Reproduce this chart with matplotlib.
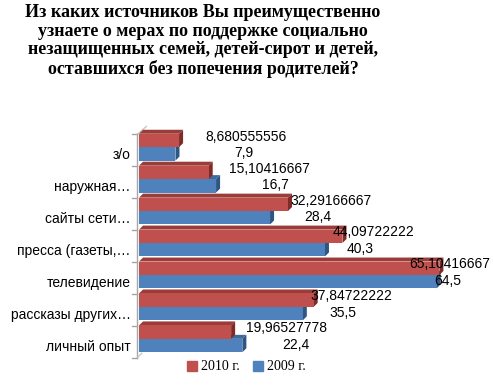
import numpy as np
import matplotlib.pyplot as plt
from matplotlib.patches import Polygon

# Dados (de baixo para cima)
categorias = ['личный опыт', 'рассказы других…', 'телевидение', 'пресса (газеты,…',
              'сайты сети…', 'наружная…', 'з/о']
v2010 = [19.96527778, 37.84722222, 65.10416667, 44.09722222, 32.29166667, 15.10416667, 8.680555556]
v2009 = [22.4, 35.5, 64.5, 40.3, 28.4, 16.7, 7.9]

titulo = ('Из каких источников Вы преимущественно\nузнаете о мерах по поддержке социально\n'
          'незащищенных семей, детей-сирот и детей,\nоставшихся без попечения родителей?')

cor_red = ['#C0504D', '#9C3C39', '#7E2B29']   # frente, topo, lado
cor_blue = ['#4F81BD', '#3F6A9E', '#2F5582']

fig = plt.figure(figsize=(4.93, 3.86), dpi=100)
ax = fig.add_axes([139/493, 1-358/386, 323/493, 230/386])
ax.set_xlim(0, 70)
ax.set_ylim(-0.6, 6.6)

h = 0.42      # altura de cada barra
dx = 0.87     # profundidade 3D em x
dy = 0.125    # profundidade 3D em y


def barra3d(y0, y1, v, cores, z):
    topo = Polygon([(0, y1), (v, y1), (v+dx, y1+dy), (dx, y1+dy)], closed=True,
                   facecolor=cores[1], edgecolor='none', zorder=z, clip_on=False)
    lado = Polygon([(v, y0), (v, y1), (v+dx, y1+dy), (v+dx, y0+dy)], closed=True,
                   facecolor=cores[2], edgecolor='none', zorder=z, clip_on=False)
    frente = Polygon([(0, y0), (v, y0), (v, y1), (0, y1)], closed=True,
                     facecolor=cores[0], edgecolor='none', zorder=z+0.5, clip_on=False)
    for p in (topo, lado, frente):
        ax.add_patch(p)


for i in range(len(categorias)):
    barra3d(i-h, i, v2009[i], cor_blue, 2)
    barra3d(i, i+h, v2010[i], cor_red, 3)

# Rotulos de dados
for i in range(len(categorias)):
    r = v2010[i]
    b = v2009[i]
    ax.text(16.5 + 0.78*r, i+0.33, str(r).replace('.', ','), ha='center', va='center',
            fontsize=10, family='Liberation Sans', zorder=6, clip_on=False)
    ax.text(16.5 + 0.78*b, i-0.19, str(b).replace('.', ','), ha='center', va='center',
            fontsize=10, family='Liberation Sans', zorder=6, clip_on=False)

# Parede / eixo
ax.plot([-0.4, -0.4], [-0.6, 6.4], color='#A6A6A6', lw=1, clip_on=False, zorder=1)
ax.plot([-0.4, 1.6], [6.4, 6.65], color='#C8C8C8', lw=1, clip_on=False, zorder=1)
ax.plot([-0.4, 0.6], [-0.6, -0.45], color='#C8C8C8', lw=1, clip_on=False, zorder=1)
for t in np.arange(-1, 7) + 0.4:
    ax.plot([-1.6, -0.4], [t, t], color='#A6A6A6', lw=1, clip_on=False, zorder=1)

ax.set_yticks(np.arange(len(categorias)) - 0.2)
ax.set_yticklabels(categorias, fontsize=10, family='Liberation Sans')
ax.tick_params(axis='y', length=0, pad=6)
ax.set_xticks([])
for s in ax.spines.values():
    s.set_visible(False)

fig.text(0.412, 0.99, titulo, ha='center', va='top', fontsize=13, fontweight='bold',
         family='Liberation Serif', linespacing=1.13)

h1 = plt.Rectangle((0, 0), 1, 1, color=cor_red[0])
h2 = plt.Rectangle((0, 0), 1, 1, color=cor_blue[0])
fig.legend([h1, h2], ['2010 г.', '2009 г.'], loc='lower center', bbox_to_anchor=(0.5, 0.0),
           ncol=2, frameon=False, handlelength=0.7, handleheight=0.7, handletextpad=0.3,
           columnspacing=1.0, prop={'family': 'Liberation Serif', 'size': 10})

fig.savefig('out.png', dpi=100)
